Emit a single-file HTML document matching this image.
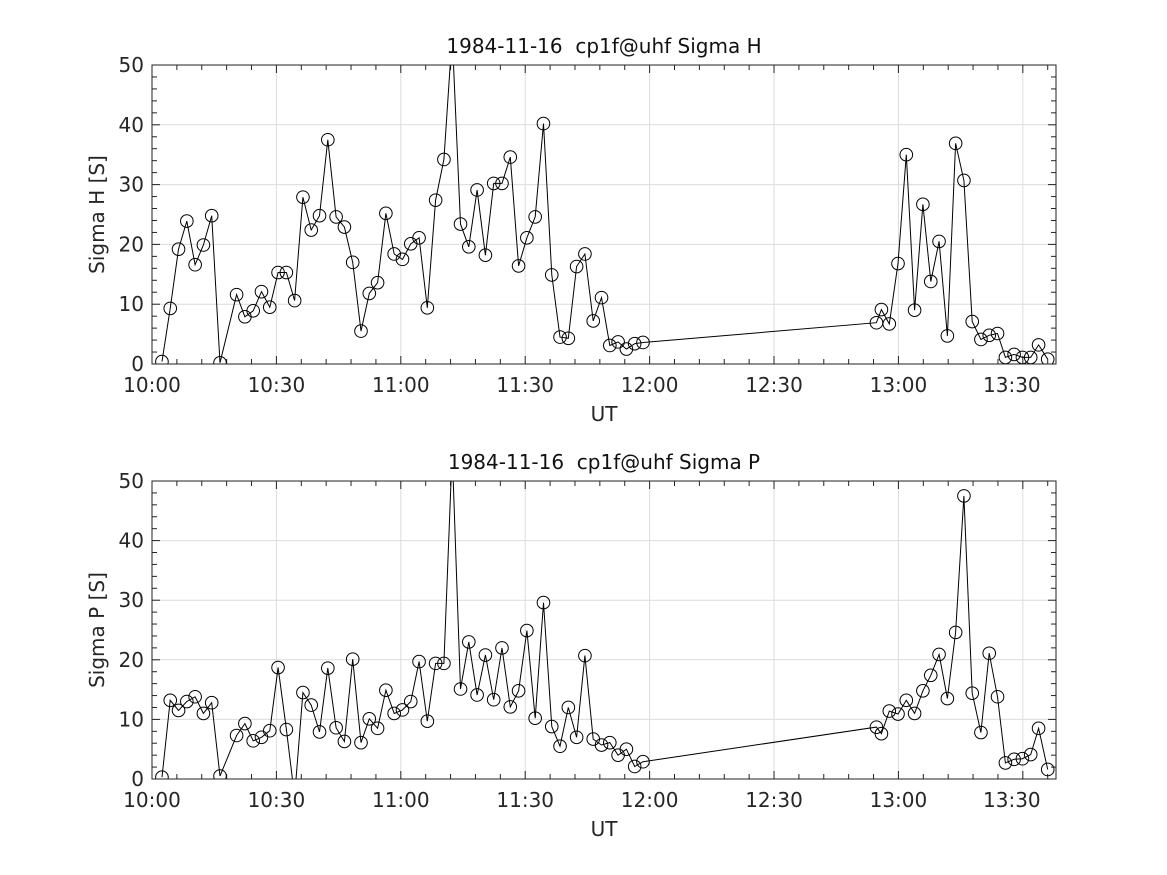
<!DOCTYPE html>
<html><head><meta charset="utf-8"><style>
body{margin:0;background:#fff;}
svg{display:block;font-family:"DejaVu Sans","Liberation Sans",sans-serif;}
text{white-space:pre;}
</style></head><body>
<svg id="fig" width="1167" height="875" viewBox="0 0 1167 875" xmlns="http://www.w3.org/2000/svg"></svg>
<script>
const timesLeft = [];
for (let k = 0; k <= 58; k++) { if (k !== 8) timesLeft.push(2.4 + 2 * k); }
const timesRight = [174.7,175.9,177.8,179.9,181.9,183.9,185.9,187.8,189.8,191.8,193.8,195.8,197.8,199.9,201.9,203.9,205.8,207.9,209.9,211.9,213.8,216.0];
const sigmaHLeft = [0.4,9.3,19.2,23.9,16.6,19.9,24.8,0.2,11.6,7.9,8.9,12.1,9.5,15.3,15.3,10.6,27.9,22.4,24.8,37.5,24.6,22.9,17.0,5.5,11.8,13.6,25.2,18.4,17.5,20.1,21.1,9.4,27.4,34.2,55,23.4,19.6,29.1,18.2,30.2,30.2,34.6,16.4,21.1,24.6,40.2,14.9,4.5,4.3,16.3,18.4,7.2,11.1,3.1,3.7,2.5,3.4,3.6];
const sigmaHRight = [6.9,9.1,6.7,16.8,35.0,9.0,26.7,13.8,20.5,4.7,36.9,30.7,7.1,4.1,4.8,5.1,1.1,1.6,1.1,1.1,3.2,0.8];
const sigmaPLeft = [0.3,13.2,11.5,13.0,13.8,11.0,12.8,0.5,7.3,9.3,6.4,7.0,8.1,18.7,8.3,-3,14.5,12.4,7.9,18.6,8.6,6.3,20.1,6.1,10.1,8.5,14.9,11.0,11.6,13.0,19.7,9.7,19.4,19.4,55,15.1,23.0,14.1,20.8,13.3,22.0,12.1,14.8,24.9,10.2,29.6,8.8,5.5,12.0,7.0,20.7,6.7,5.7,6.1,4.0,5.0,2.1,2.9];
const sigmaPRight = [8.7,7.6,11.4,10.9,13.2,11.0,14.8,17.4,20.9,13.5,24.6,47.5,14.4,7.8,21.1,13.8,2.7,3.3,3.4,4.1,8.5,1.6];
const xTickLabels = ["10:00","10:30","11:00","11:30","12:00","12:30","13:00","13:30"];
const yTickLabels = ["0","10","20","30","40","50"];

const NS = "http://www.w3.org/2000/svg";
const svg = document.getElementById('fig');
function mk(tag, attrs, parent){const e=document.createElementNS(NS,tag);for(const k in attrs)e.setAttribute(k,attrs[k]);(parent||svg).appendChild(e);return e;}

const X0=152, X1=1056, TMAX=218;
function xs(t){return X0 + t/TMAX*(X1-X0);}

function panel(top, bottom, title, ylab, times, vals, prefix){
  function ys(v){return bottom - v/50*(bottom-top);}
  const g = mk('g',{});
  
  
  for (let i=0;i<xTickLabels.length;i++){ const x=xs(i*30); mk('line',{x1:x,x2:x,y1:top,y2:bottom,stroke:'#dcdcdc','stroke-width':1},g); }
  for (let i=0;i<yTickLabels.length;i++){ const y=ys(i*10); mk('line',{x1:X0,x2:X1,y1:y,y2:y,stroke:'#dcdcdc','stroke-width':1},g); }
  for (let m=0;m<=TMAX;m+=6){ const x=xs(m); const L=(m%30===0)?8:5;
    mk('line',{x1:x,x2:x,y1:bottom,y2:bottom-L,stroke:'#222'},g); mk('line',{x1:x,x2:x,y1:top,y2:top+L,stroke:'#222'},g); }
  for (let v=0;v<=50;v+=2){ const y=ys(v); const L=(v%10===0)?8:5;
    mk('line',{x1:X0,x2:X0+L,y1:y,y2:y,stroke:'#222'},g); mk('line',{x1:X1,x2:X1-L,y1:y,y2:y,stroke:'#222'},g); }
  for (let i=0;i<xTickLabels.length;i++){
    const shift = (i===xTickLabels.length-1)? -11 : 0;
    const t=mk('text',{x:xs(i*30)+shift,y:bottom+28,'text-anchor':'middle','font-size':20,fill:'#262626'},g); t.textContent=xTickLabels[i];
      }
  for (let i=0;i<yTickLabels.length;i++){ const t=mk('text',{x:X0-8,y:ys(i*10)+7,'text-anchor':'end','font-size':20,fill:'#262626'},g); t.textContent=yTickLabels[i];
      }
  const tt=mk('text',{x:(X0+X1)/2,y:top-12,'text-anchor':'middle','font-size':20,fill:'#111'},g); tt.textContent=title;
   
  const xl=mk('text',{x:(X0+X1)/2,y:bottom+57,'text-anchor':'middle','font-size':20,fill:'#262626'},g); xl.textContent='UT';
   
  const cy=(top+bottom)/2;
  const yl=mk('text',{x:104,y:cy,'text-anchor':'middle','font-size':20,fill:'#262626',transform:`rotate(-90 104 ${cy})`},g); yl.textContent=ylab;
   
  const cp=mk('clipPath',{id:prefix+'clip'},g); mk('rect',{x:X0,y:top,width:X1-X0,height:bottom-top},cp);
  const dg=mk('g',{'clip-path':`url(#${prefix}clip)`},g);
  const pts=times.map((t,i)=>xs(t).toFixed(1)+','+ys(vals[i]).toFixed(1)).join(' ');
  const pl=mk('polyline',{points:pts,fill:'none',stroke:'#000','stroke-width':1},dg);
   
  times.forEach((t,i)=>{ if(vals[i]<0||vals[i]>50) return;
    const c=mk('circle',{cx:xs(t),cy:ys(vals[i]),r:6.3,fill:'none',stroke:'#000','stroke-width':1},dg);
      });
  mk('rect',{x:X0,y:top,width:X1-X0,height:bottom-top,fill:'none',stroke:'#222','stroke-width':1},g);
}
const tAll = timesLeft.concat(timesRight);
panel(65,364,'1984-11-16  cp1f@uhf Sigma H','Sigma H [S]',tAll,sigmaHLeft.concat(sigmaHRight),'sigma-h');
panel(481,779,'1984-11-16  cp1f@uhf Sigma P','Sigma P [S]',tAll,sigmaPLeft.concat(sigmaPRight),'sigma-p');
</script>
</body></html>
